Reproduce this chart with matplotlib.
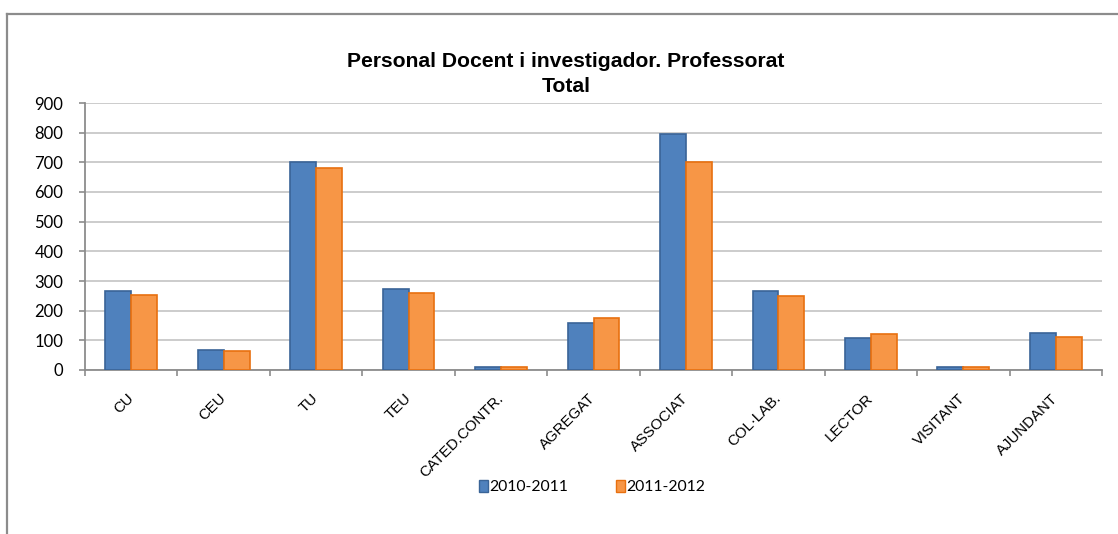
import matplotlib
matplotlib.use("Agg")
import matplotlib.pyplot as plt
from matplotlib.lines import Line2D
from matplotlib.patches import Patch
import numpy as np

categories = ["CU", "CEU", "TU", "TEU", "CATED.CONTR.", "AGREGAT", "ASSOCIAT",
              "COL·LAB.", "LECTOR", "VISITANT", "AJUNDANT"]
series_names = ["2010-2011", "2011-2012"]
values_2010 = [265, 67, 700, 274, 11, 160, 797, 267, 108, 11, 126]
values_2011 = [253, 64, 680, 260, 10, 174, 701, 250, 120, 10, 112]
yticks = [0, 100, 200, 300, 400, 500, 600, 700, 800, 900]
title_lines = ["Personal Docent i investigador. Professorat", "Total"]

W, H = 1118, 534
fig = plt.figure(figsize=(W / 100, H / 100), dpi=100)
fig.patch.set_facecolor("white")

# outer chart frame (left and top visible)
fx = 6.5 / W
fy = 1 - 13.5 / H
fig.add_artist(Line2D([fx, fx], [0, fy], transform=fig.transFigure, color="#8c8c8c", lw=1.6))
fig.add_artist(Line2D([fx, 1.0], [fy, fy], transform=fig.transFigure, color="#8c8c8c", lw=1.6))

left, right = 85 / W, 1102 / W
bottom, top = 1 - 370 / H, 1 - 103 / H
ax = fig.add_axes([left, bottom, right - left, top - bottom])

x = np.arange(len(categories))
w = 0.28
blue, blue_edge = "#4F81BD", "#3A6497"
orange, orange_edge = "#F79646", "#E8700F"
ax.bar(x - w / 2, values_2010, width=w, color=blue, edgecolor=blue_edge, linewidth=1.2, zorder=3)
ax.bar(x + w / 2, values_2011, width=w, color=orange, edgecolor=orange_edge, linewidth=1.2, zorder=3)

ax.set_xlim(-0.5, len(categories) - 0.5)
ax.set_ylim(0, 900)
ax.set_yticks(yticks)
ax.set_yticklabels([str(v) for v in yticks], fontfamily="Lato", fontsize=12)
ax.yaxis.grid(True, color="#c8c8c8", lw=1.3, zorder=0)
ax.set_axisbelow(True)

for s in ["top", "right"]:
    ax.spines[s].set_visible(False)
ax.spines["left"].set_color("#8c8c8c")
ax.spines["bottom"].set_color("#8c8c8c")
ax.spines["left"].set_linewidth(1.3)
ax.spines["bottom"].set_linewidth(1.3)
ax.tick_params(axis="y", length=4.5, color="#8c8c8c", width=1.2, pad=11)

ax.set_xticks(x)
ax.set_xticklabels(categories, rotation=45, ha="right", va="center",
                   rotation_mode="anchor", fontfamily="Liberation Sans", fontsize=10.8)
ax.tick_params(axis="x", which="major", length=0, pad=19)
ax.set_xticks(np.arange(-0.5, len(categories)), minor=True)
ax.tick_params(axis="x", which="minor", length=4, color="#8c8c8c", width=1.2)

fig.text(566 / W, 1 - 67 / H, title_lines[0], ha="center", va="baseline",
         fontfamily="Liberation Sans", fontweight="bold", fontsize=15.2)
fig.text(566 / W, 1 - 92 / H, title_lines[1], ha="center", va="baseline",
         fontfamily="Liberation Sans", fontweight="bold", fontsize=15.2)

handles = [Patch(facecolor=blue, edgecolor=blue_edge, lw=1.0),
           Patch(facecolor=orange, edgecolor=orange_edge, lw=1.0)]
leg = fig.legend(handles, series_names, loc="center", bbox_to_anchor=(592 / W, 1 - 487 / H),
                 ncol=2, frameon=False, prop={"family": "Lato", "size": 11.3},
                 handlelength=0.6, handleheight=0.8, handletextpad=0.1, columnspacing=3.0)

fig.savefig("out.png", dpi=100)
